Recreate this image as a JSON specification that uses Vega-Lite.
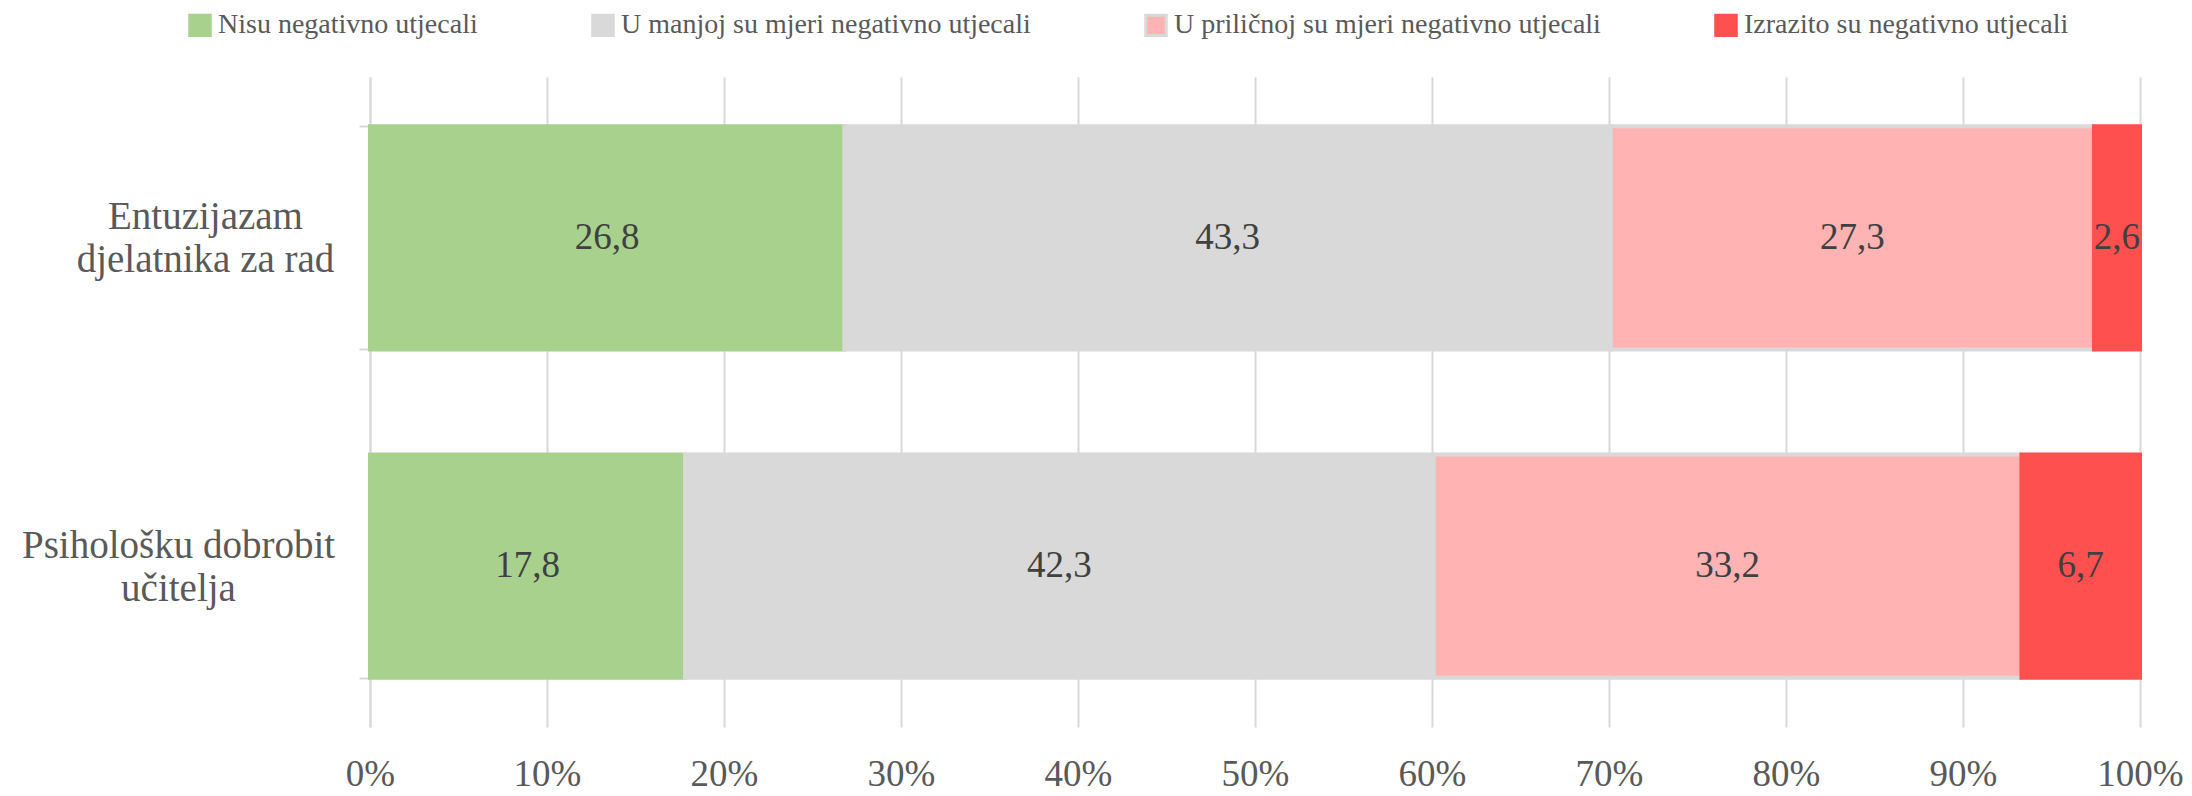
{
  "$schema": "https://vega.github.io/schema/vega-lite/v6.json",
  "width": 1770,
  "height": 650,
  "autosize": {"type": "none"},
  "padding": {"left": 370, "top": 77, "right": 52, "bottom": 69},
  "background": "white",
  "config": {
    "view": {"stroke": null},
    "font": "Liberation Serif"
  },
  "data": {
    "values": [
      {"cat": "Entuzijazam djelatnika za rad", "resp": "Nisu negativno utjecali", "rank": 1, "v": 26.8, "lab": "26,8"},
      {"cat": "Entuzijazam djelatnika za rad", "resp": "U manjoj su mjeri negativno utjecali", "rank": 2, "v": 43.3, "lab": "43,3"},
      {"cat": "Entuzijazam djelatnika za rad", "resp": "U priličnoj su mjeri negativno utjecali", "rank": 3, "v": 27.3, "lab": "27,3"},
      {"cat": "Entuzijazam djelatnika za rad", "resp": "Izrazito su negativno utjecali", "rank": 4, "v": 2.6, "lab": "2,6"},
      {"cat": "Psihološku dobrobit učitelja", "resp": "Nisu negativno utjecali", "rank": 1, "v": 17.8, "lab": "17,8"},
      {"cat": "Psihološku dobrobit učitelja", "resp": "U manjoj su mjeri negativno utjecali", "rank": 2, "v": 42.3, "lab": "42,3"},
      {"cat": "Psihološku dobrobit učitelja", "resp": "U priličnoj su mjeri negativno utjecali", "rank": 3, "v": 33.2, "lab": "33,2"},
      {"cat": "Psihološku dobrobit učitelja", "resp": "Izrazito su negativno utjecali", "rank": 4, "v": 6.7, "lab": "6,7"}
    ]
  },
  "encoding": {
    "y": {
      "field": "cat",
      "type": "nominal",
      "sort": ["Entuzijazam djelatnika za rad", "Psihološku dobrobit učitelja"],
      "scale": {"paddingInner": 0.32, "paddingOuter": 0.15},
      "axis": {
        "title": null,
        "domain": true,
        "domainColor": "#D9D9D9",
        "domainWidth": 2,
        "ticks": true,
        "tickBand": "extent",
        "tickColor": "#D9D9D9",
        "tickWidth": 2,
        "tickSize": 11,
        "grid": false,
        "labelFont": "Liberation Serif",
        "labelFontSize": 39,
        "labelColor": "#595959",
        "labelAlign": "center",
        "labelBaseline": "middle",
        "labelLineHeight": 43,
        "labelLimit": 600,
        "labelOffset": -21,
        "labelPadding": {"condition": {"test": "datum.value == 'Entuzijazam djelatnika za rad'", "value": 154}, "value": 181},
        "labelExpr": "datum.value == 'Entuzijazam djelatnika za rad' ? ['Entuzijazam', 'djelatnika za rad'] : (datum.value == 'Psihološku dobrobit učitelja' ? ['Psihološku dobrobit', 'učitelja'] : '')"
      }
    }
  },
  "layer": [
    {
      "mark": {"type": "bar", "strokeWidth": 4},
      "encoding": {
        "x": {
          "field": "v",
          "type": "quantitative",
          "stack": "zero",
          "scale": {"domain": [0, 100], "nice": false},
          "axis": {
            "title": null,
            "values": [0, 10, 20, 30, 40, 50, 60, 70, 80, 90, 100],
            "labelExpr": "datum.value + '%'",
            "domain": false,
            "ticks": false,
            "grid": true,
            "gridColor": "#D9D9D9",
            "gridWidth": 2,
            "labelFont": "Liberation Serif",
            "labelFontSize": 37,
            "labelColor": "#595959",
            "labelPadding": 29,
            "labelFlush": false
          }
        },
        "color": {
          "field": "resp",
          "type": "nominal",
          "scale": {
            "domain": ["Nisu negativno utjecali", "U manjoj su mjeri negativno utjecali", "U priličnoj su mjeri negativno utjecali", "Izrazito su negativno utjecali"],
            "range": ["#A9D18E", "#D9D9D9", "#FFB3B3", "#FF5050"]
          },
          "legend": {
            "title": null,
            "orient": "none",
            "legendX": -184,
            "legendY": -66,
            "direction": "horizontal",
            "symbolType": "square",
            "symbolSize": 420,
            "symbolStrokeWidth": 3,
            "labelFont": "Liberation Serif",
            "labelFontSize": 28,
            "labelColor": "#595959",
            "labelLimit": 700,
            "labelOffset": 4,
            "columnPadding": 108
          }
        },
        "stroke": {
          "field": "resp",
          "type": "nominal",
          "scale": {
            "domain": ["Nisu negativno utjecali", "U manjoj su mjeri negativno utjecali", "U priličnoj su mjeri negativno utjecali", "Izrazito su negativno utjecali"],
            "range": ["#A9D18E", "#D9D9D9", "#D9D9D9", "#FF5050"]
          },
          "legend": null
        },
        "order": {"field": "rank", "type": "quantitative"}
      }
    },
    {
      "mark": {"type": "text", "font": "Liberation Serif", "fontSize": 37, "color": "#404040", "baseline": "middle", "align": "center"},
      "encoding": {
        "x": {"field": "v", "type": "quantitative", "stack": "zero", "bandPosition": 0.5},
        "detail": {"field": "resp"},
        "order": {"field": "rank", "type": "quantitative"},
        "text": {"field": "lab", "type": "nominal"}
      }
    }
  ]
}
